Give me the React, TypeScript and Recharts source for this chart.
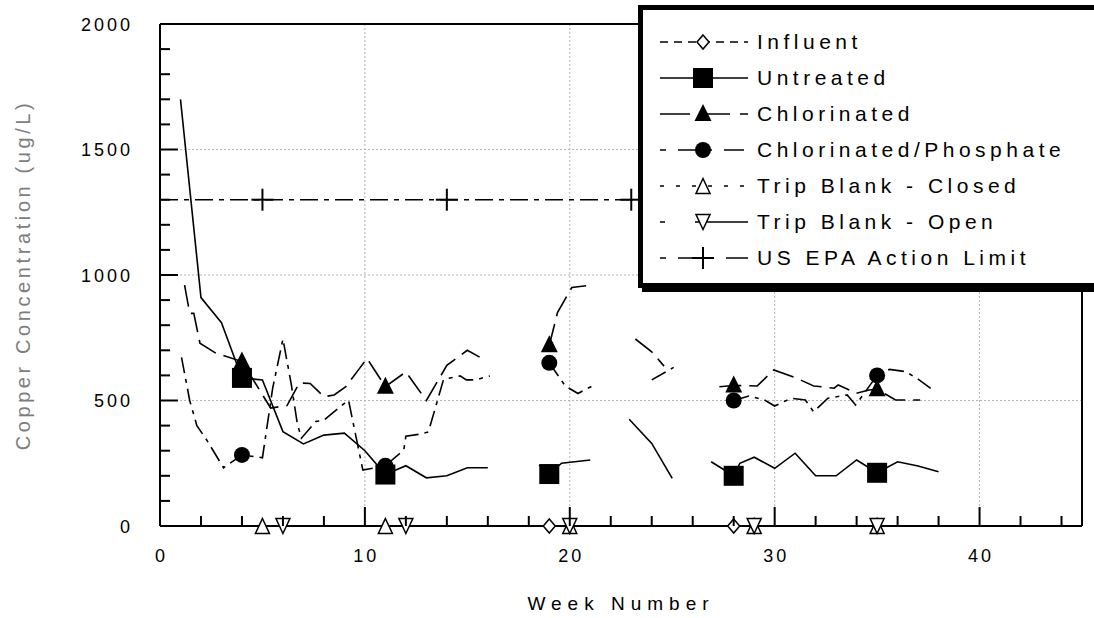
import React from "react";
import { LineChart, Line, XAxis, YAxis, ReferenceLine } from "recharts";

// weeks and copper readings (ug/L), null = break in the trace
const untreatedWeeks = [1, 2, 3, 4, 5, 6, 7, 8, 9, 10, 11, 12, 13, 14, 15, 16, 17, 18.5, 19, 19.6, 21, 22, 22.9, 24, 25, 26, 26.9, 28, 28.3, 29, 30, 31, 32, 33, 34, 35, 36, 37, 38];
const untreatedValues = [1700, 910, 810, 590, 582, 376, 327, 362, 370, 300, 205, 240, 192, 200, 232, 232, null, 243, 207, 250, 263, null, 425, 329, 190, null, 256, 200, 250, 274, 230, 290, 200, 200, 263, 212, 256, 239, 216];

const chlorWeeks = [1.2, 1.45, 1.65, 1.95, 2.7, 4, 5.4, 6.2, 6.8, 7.33, 8, 8.5, 9.07, 9.74, 10.1, 11, 12, 12.5, 13, 14, 15, 15.6, 17, 19, 19.4, 20.1, 20.8, 22, 23.2, 24, 24.6, 26, 27.3, 28, 29.15, 29.96, 31.1, 31.9, 32.9, 33.1, 34, 34.6, 35, 35.9, 37.1];
const chlorValues = [960, 847, 847, 728, 690, 655, 470, 480, 570, 568, 515, 522, 555, 628, 668, 555, 614, 557, 500, 640, 700, 673, null, 720, 850, 950, 957, null, 745, 694, 637, null, 555, 560, 558, 622, 588, 558, 549, 562, 529, 542, 545, 502, 502];

const phosWeeks = [1.05, 1.45, 1.8, 2.3, 3.1, 4, 5, 5.2, 5.5, 6, 6.4, 6.7, 6.9, 7.6, 8, 9.2, 9.5, 9.9, 11, 11.9, 12, 12.7, 13.1, 13.84, 14.65, 14.95, 15.4, 16.1, 17, 19, 19.78, 20.4, 21.1, 22, 24, 25.07, 26, 28, 28.74, 29.5, 30, 30.8, 31.5, 31.9, 32.6, 33.54, 33.95, 35, 35.6, 36.4, 37, 37.7];
const phosValues = [672, 500, 400, 340, 232, 283, 272, 383, 549, 745, 568, 409, 350, 416, 422, 502, 382, 223, 240, 303, 358, 366, 375, 584, 598, 582, 582, 598, null, 650, 558, 528, 558, null, 582, 632, null, 500, 518, 502, 478, 509, 502, 455, 509, 522, 482, 600, 624, 615, 585, 543];

const influentWeeks = [4, 11, 19, 28, 35];
const influentValues = [0, 0, 0, 0, 0];
const closedWeeks = [5, 11, 20, 29, 35];
const closedValues = [0, 0, 0, 0, 0];
const openWeeks = [6, 12, 20, 29, 35];
const openValues = [0, 0, 0, 0, 0];
const epaWeeks = [0, 5, 14, 23, 32, 41, 45];
const epaValues = [1300, 1300, 1300, 1300, 1300, 1300, 1300];

// weeks that carry a symbol
const sampleWeeks = [4, 11, 19, 28, 35];
const influentMarks = [19, 28];
const epaMarks = [5, 14, 23, 32, 41];

const xTicks = [0, 2, 4, 6, 8, 10, 12, 14, 16, 18, 20, 22, 24, 26, 28, 30, 32, 34, 36, 38, 40, 42, 44];
const yTicks = [0, 100, 200, 300, 400, 500, 600, 700, 800, 900, 1000, 1100, 1200, 1300, 1400, 1500, 1600, 1700, 1800, 1900, 2000];
const xGrid = [10, 20, 30, 40];
const yGrid = [500, 1000, 1500];

const FONT = '"Liberation Sans", Arial, Helvetica, sans-serif';

type Shape = "diamond" | "square" | "triangle" | "circle" | "triUp" | "triDown" | "plus";
type Pt = { week: number; value: number | null };

const zip = (w: number[], v: (number | null)[]): Pt[] => w.map((week, i) => ({ week, value: v[i] }));

const series = [
  { name: "US EPA Action Limit", data: zip(epaWeeks, epaValues), dash: "18 6 5 6", shape: "plus" as Shape, marks: epaMarks },
  { name: "Influent", data: zip(influentWeeks, influentValues), dash: "7 6", shape: "diamond" as Shape, marks: influentMarks },
  { name: "Trip Blank - Closed", data: zip(closedWeeks, closedValues), dash: "5 6", shape: "triUp" as Shape, marks: closedWeeks },
  { name: "Trip Blank - Open", data: zip(openWeeks, openValues), dash: "40 8 5 22", shape: "triDown" as Shape, marks: openWeeks },
  { name: "Chlorinated/Phosphate", data: zip(phosWeeks, phosValues), dash: "16 6 4 6", shape: "circle" as Shape, marks: sampleWeeks },
  { name: "Chlorinated", data: zip(chlorWeeks, chlorValues), dash: "22 8", shape: "triangle" as Shape, marks: sampleWeeks },
  { name: "Untreated", data: zip(untreatedWeeks, untreatedValues), dash: undefined, shape: "square" as Shape, marks: sampleWeeks },
];

const legendRows: { label: string; dash?: string; shape: Shape }[] = [
  { label: "Influent", dash: "8 6", shape: "diamond" },
  { label: "Untreated", shape: "square" },
  { label: "Chlorinated", dash: "30 10", shape: "triangle" },
  { label: "Chlorinated/Phosphate", dash: "6 12 20 8", shape: "circle" },
  { label: "Trip Blank - Closed", dash: "4 12", shape: "triUp" },
  { label: "Trip Blank - Open", dash: "5 30 60 4", shape: "triDown" },
  { label: "US EPA Action Limit", dash: "6 12 22 8", shape: "plus" },
];

function Marker({ shape, x, y }: { shape: Shape; x: number; y: number }) {
  const s = { stroke: "#000", strokeWidth: 1.5 };
  switch (shape) {
    case "diamond":
      return <polygon points={`${x},${y - 7} ${x + 6},${y} ${x},${y + 7} ${x - 6},${y}`} fill="#fff" {...s} />;
    case "square":
      return <rect x={x - 10} y={y - 10} width={20} height={20} fill="#000" />;
    case "triangle":
      return <polygon points={`${x},${y - 10} ${x + 8.5},${y + 7} ${x - 8.5},${y + 7}`} fill="#000" />;
    case "circle":
      return <circle cx={x} cy={y} r={8} fill="#000" />;
    case "triUp":
      return <polygon points={`${x},${y - 7.5} ${x + 7},${y + 7.5} ${x - 7},${y + 7.5}`} fill="#fff" {...s} />;
    case "triDown":
      return <polygon points={`${x - 7},${y - 7.5} ${x + 7},${y - 7.5} ${x},${y + 7.5}`} fill="#fff" {...s} />;
    default:
      return (
        <g stroke="#000" strokeWidth={2}>
          <line x1={x - 11} y1={y} x2={x + 11} y2={y} />
          <line x1={x} y1={y - 11} x2={x} y2={y + 11} />
        </g>
      );
  }
}

const makeDot = (shape: Shape, marks: number[]) => (props: any) => {
  const { cx, cy, payload, index } = props;
  if (cx == null || cy == null || payload == null || payload.value == null || !marks.includes(payload.week)) {
    return <g key={`d${index}`} />;
  }
  return (
    <g key={`d${index}`}>
      <Marker shape={shape} x={cx} y={cy} />
    </g>
  );
};

const tickText = { fontFamily: FONT, fontSize: 18, letterSpacing: 3, fill: "#000" };

function BottomTick(props: any) {
  const { x, y, payload } = props;
  const major = payload.value % 10 === 0;
  return (
    <g>
      <line x1={x} y1={y} x2={x} y2={y - (major ? 19 : 10)} stroke="#000" strokeWidth={2} />
      {major && (
        <text x={x + 1.5} y={y + 36} textAnchor="middle" style={tickText}>
          {payload.value}
        </text>
      )}
    </g>
  );
}

function TopTick(props: any) {
  const { x, y, payload } = props;
  const major = payload.value % 10 === 0;
  return <line x1={x} y1={y} x2={x} y2={y + (major ? 19 : 10)} stroke="#000" strokeWidth={2} />;
}

function LeftTick(props: any) {
  const { x, y, payload } = props;
  const major = payload.value % 500 === 0;
  return (
    <g>
      <line x1={x} y1={y} x2={x + (major ? 18 : 10)} y2={y} stroke="#000" strokeWidth={2} />
      {major && (
        <text x={x - 27} y={y + 6.5} textAnchor="end" style={tickText}>
          {payload.value}
        </text>
      )}
    </g>
  );
}

function RightTick(props: any) {
  const { x, y, payload } = props;
  const major = payload.value % 500 === 0;
  return <line x1={x} y1={y} x2={x - (major ? 18 : 10)} y2={y} stroke="#000" strokeWidth={2} />;
}

function LegendBox() {
  return (
    <div
      style={{
        position: "absolute",
        left: 638,
        top: 5,
        width: 480,
        height: 283,
        boxSizing: "border-box",
        border: "5px solid #000",
        boxShadow: "4px 4px 0 #000",
        background: "#fff",
        paddingTop: 14,
      }}
    >
      {legendRows.map((r) => (
        <div key={r.label} style={{ display: "flex", alignItems: "center", height: 36 }}>
          <svg width={90} height={36} style={{ marginLeft: 17, flex: "none" }}>
            <line x1={0} y1={18} x2={88} y2={18} stroke="#000" strokeWidth={1.6} strokeDasharray={r.dash} />
            <Marker shape={r.shape} x={43} y={18} />
          </svg>
          <span
            style={{
              marginLeft: 7,
              fontFamily: FONT,
              fontSize: 21,
              letterSpacing: 4.5,
              lineHeight: "36px",
              whiteSpace: "nowrap",
              color: "#000",
            }}
          >
            {r.label}
          </span>
        </div>
      ))}
    </div>
  );
}

export default function App() {
  return (
    <div style={{ position: "fixed", left: 0, top: 0, width: 1094, height: 618, overflow: "hidden", background: "#fff" }}>
      <LineChart width={1094} height={618} margin={{ top: 0, right: 0, bottom: 0, left: 0 }}>
        <XAxis
          xAxisId="bottom"
          dataKey="week"
          type="number"
          orientation="bottom"
          domain={[0, 45]}
          ticks={xTicks}
          interval={0}
          height={92}
          tickSize={0}
          tickMargin={0}
          tickLine={false}
          tick={<BottomTick />}
          axisLine={{ stroke: "#000", strokeWidth: 2 }}
        />
        <XAxis
          xAxisId="top"
          dataKey="week"
          type="number"
          orientation="top"
          domain={[0, 45]}
          ticks={xTicks}
          interval={0}
          height={24}
          tickSize={0}
          tickMargin={0}
          tickLine={false}
          tick={<TopTick />}
          axisLine={{ stroke: "#000", strokeWidth: 2 }}
        />
        <YAxis
          yAxisId="left"
          type="number"
          orientation="left"
          domain={[0, 2000]}
          ticks={yTicks}
          interval={0}
          width={160}
          tickSize={0}
          tickMargin={0}
          tickLine={false}
          tick={<LeftTick />}
          axisLine={{ stroke: "#000", strokeWidth: 2 }}
        />
        <YAxis
          yAxisId="right"
          type="number"
          orientation="right"
          domain={[0, 2000]}
          ticks={yTicks}
          interval={0}
          width={12}
          tickSize={0}
          tickMargin={0}
          tickLine={false}
          tick={<RightTick />}
          axisLine={{ stroke: "#000", strokeWidth: 2 }}
        />
        {xGrid.map((v) => (
          <ReferenceLine key={`gx${v}`} x={v} xAxisId="bottom" yAxisId="left" stroke="#b3b3b3" strokeDasharray="2 2" />
        ))}
        {yGrid.map((v) => (
          <ReferenceLine key={`gy${v}`} y={v} xAxisId="bottom" yAxisId="left" stroke="#b3b3b3" strokeDasharray="2 2" />
        ))}
        {series.map((s) => (
          <Line
            key={s.name}
            xAxisId="bottom"
            yAxisId="left"
            data={s.data}
            dataKey="value"
            name={s.name}
            type="linear"
            stroke="#000"
            strokeWidth={1.6}
            strokeDasharray={s.dash}
            connectNulls={false}
            dot={makeDot(s.shape, s.marks)}
            activeDot={false}
            isAnimationActive={false}
          />
        ))}
      </LineChart>
      <div
        style={{
          position: "absolute",
          left: 621,
          top: 604,
          transform: "translate(-50%, -50%)",
          fontFamily: FONT,
          fontSize: 19,
          letterSpacing: 6,
          whiteSpace: "nowrap",
          color: "#000",
        }}
      >
        Week Number
      </div>
      <div
        style={{
          position: "absolute",
          left: 23,
          top: 275,
          transform: "translate(-50%, -50%) rotate(-90deg)",
          fontFamily: FONT,
          fontSize: 20,
          letterSpacing: 3.6,
          whiteSpace: "nowrap",
          color: "#7d7d7d",
        }}
      >
        Copper Concentration (ug/L)
      </div>
      <LegendBox />
    </div>
  );
}
